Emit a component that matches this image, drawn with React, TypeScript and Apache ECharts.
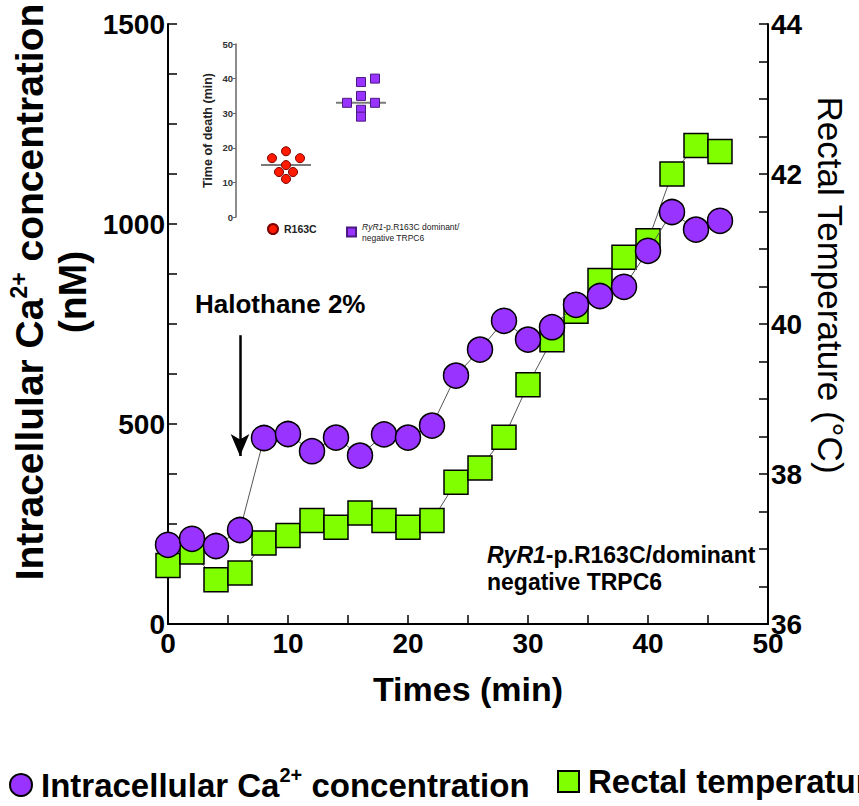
import React, { useEffect, useRef } from "react";
import * as echarts from "echarts";

const FONT = '"Liberation Sans", Arial, Helvetica, sans-serif';

// Main chart data (time in min)
const TIMES = [0, 2, 4, 6, 8, 10, 12, 14, 16, 18, 20, 22, 24, 26, 28, 30, 32, 34, 36, 38, 40, 42, 44, 46];
const CA_NM = [198, 213, 195, 235, 465, 475, 432, 466, 421, 474, 466, 496, 621, 686, 758, 711, 742, 798, 820, 843, 933, 1030, 986, 1008];
const TEMP_C = [36.78, 36.96, 36.59, 36.68, 37.08, 37.18, 37.38, 37.29, 37.48, 37.38, 37.29, 37.38, 37.89, 38.08, 38.49, 39.19, 39.79, 40.17, 40.58, 40.89, 41.11, 42.0, 42.38, 42.3];

// Halothane arrow (time, from / to Ca value)
const HALOTHANE_T = 6;
const ARROW_FROM = 722;
const ARROW_TO = 420;

// Inset: time of death
const RED_X = [0.72, 1.0, 1.28, 1.0, 0.86, 1.14, 1.0];
const RED_Y = [17, 19, 17, 15, 13, 13, 11];
const PURPLE_X = [2.22, 2.5, 2.5, 2.5, 2.5, 2.78, 2.78];
const PURPLE_Y = [33, 39, 35, 31, 29, 33, 40];
const RED_MEAN = 15;
const PURPLE_MEAN = 33;

const CA_NAME = "Intracellular Ca2+ concentration";
const TEMP_NAME = "Rectal temperature";
const RED_NAME = "R163C";
const PURPLE_NAME = "RyR1-p.R163C dominant/ negative TRPC6";

export default function App() {
  const ref = useRef<HTMLDivElement>(null);
  useEffect(() => {
    const chart = echarts.init(ref.current!, null, { renderer: "svg" });
    const bold = { fontFamily: FONT, fontWeight: "bold" as const, color: "#000" };
    const plain = (v: number) => String(v);
    const option: any = {
      animation: false,
      backgroundColor: "#fff",
      textStyle: { fontFamily: FONT },
      grid: [
        { left: 168, top: 24, width: 600, height: 600, containLabel: false, outerBoundsMode: "none" },
        { left: 236, top: 44, width: 150, height: 173, containLabel: false, outerBoundsMode: "none" },
      ],
      legend: [
        {
          data: [{ name: CA_NAME, icon: "circle" }],
          icon: "circle",
          padding: 0,
          left: 9,
          top: 765,
          itemWidth: 22,
          itemHeight: 23,
          formatter: () => "{a|Intracellular Ca}{s|2+}{a| concentration}",
          textStyle: {
            ...bold,
            padding: [0, 0, 0, 4],
            rich: {
              a: { ...bold, fontSize: 33, lineHeight: 40 },
              s: { ...bold, fontSize: 20, lineHeight: 22, verticalAlign: "top" },
            },
          },
        },
        {
          data: [{ name: TEMP_NAME, icon: "rect" }],
          icon: "rect",
          padding: 0,
          left: 557,
          top: 765,
          itemWidth: 21,
          itemHeight: 21,
          formatter: () => "{a|Rectal temperature}",
          textStyle: {
            ...bold,
            padding: [0, 0, 0, 4],
            rich: { a: { ...bold, fontSize: 33, lineHeight: 40 } },
          },
        },
        {
          data: [{ name: RED_NAME, icon: "circle" }],
          icon: "circle",
          padding: 0,
          left: 267,
          top: 223,
          itemWidth: 10,
          itemHeight: 10,
          textStyle: { ...bold, color: "#222", fontSize: 10.5, padding: [0, 0, 0, 1] },
        },
        {
          data: [{ name: PURPLE_NAME, icon: "rect" }],
          icon: "rect",
          padding: 0,
          left: 346,
          top: 222,
          itemWidth: 9,
          itemHeight: 9,
          formatter: () => "{i|RyR1}{n|-p.R163C dominant/}\n{n|negative TRPC6}",
          textStyle: {
            color: "#222",
            padding: [0, 0, 0, 1],
            rich: {
              i: { fontFamily: FONT, fontStyle: "italic", fontSize: 8.5, color: "#222", lineHeight: 11 },
              n: { fontFamily: FONT, fontSize: 8.5, color: "#222", lineHeight: 11 },
            },
          },
        },
      ],
      xAxis: [
        {
          gridIndex: 0,
          type: "value",
          min: 0,
          max: 50,
          interval: 10,
          name: "Times (min)",
          nameLocation: "middle",
          nameGap: 48,
          nameTextStyle: { ...bold, fontSize: 34 },
          axisLine: { show: true, onZero: false, lineStyle: { color: "#000", width: 2 } },
          axisTick: { show: true, inside: true, length: 9, lineStyle: { color: "#000", width: 1.5 } },
          minorTick: { show: true, splitNumber: 2, length: 9, lineStyle: { color: "#000", width: 1.5 } },
          axisLabel: { ...bold, fontSize: 28, margin: 5, formatter: plain },
          splitLine: { show: false },
        },
        { gridIndex: 1, type: "value", min: 0, max: 3, show: false },
      ],
      yAxis: [
        {
          gridIndex: 0,
          type: "value",
          position: "left",
          min: 0,
          max: 1500,
          interval: 500,
          name: "{a|Intracellular Ca}{s|2+}{a| concentration}\n{a|(nM)}",
          nameLocation: "middle",
          nameRotate: 90,
          nameGap: 70,
          nameTextStyle: {
            ...bold,
            padding: [0, 0, 0, 64],
            rich: {
              a: { ...bold, fontSize: 39, lineHeight: 43 },
              s: { ...bold, fontSize: 23, lineHeight: 26, verticalAlign: "top" },
            },
          },
          axisLine: { show: true, onZero: false, lineStyle: { color: "#000", width: 2 } },
          axisTick: { show: true, inside: true, length: 9, lineStyle: { color: "#000", width: 1.5 } },
          minorTick: { show: true, splitNumber: 4, length: 9, lineStyle: { color: "#000", width: 1.5 } },
          axisLabel: { ...bold, fontSize: 28, margin: 3, formatter: plain },
          splitLine: { show: false },
        },
        {
          gridIndex: 0,
          type: "value",
          position: "right",
          min: 36,
          max: 44,
          interval: 2,
          name: "Rectal Temperature (°C)",
          nameLocation: "middle",
          nameRotate: -90,
          nameGap: 37,
          nameTextStyle: { fontFamily: FONT, color: "#000", fontSize: 35, padding: [0, 78, 0, 0] },
          axisLine: { show: true, onZero: false, lineStyle: { color: "#000", width: 2 } },
          axisTick: { show: true, inside: true, length: 9, lineStyle: { color: "#000", width: 1.5 } },
          minorTick: { show: true, splitNumber: 4, length: 9, lineStyle: { color: "#000", width: 1.5 } },
          axisLabel: { ...bold, fontSize: 28, margin: 3, formatter: plain },
          splitLine: { show: false },
        },
        {
          gridIndex: 1,
          type: "value",
          min: 0,
          max: 50,
          interval: 10,
          name: "Time of death (min)",
          nameLocation: "middle",
          nameRotate: 90,
          nameGap: 22,
          nameTextStyle: { ...bold, color: "#222", fontSize: 12.5 },
          axisLine: { show: true, lineStyle: { color: "#666", width: 1.5 } },
          axisTick: { show: true, length: 3, lineStyle: { color: "#666", width: 1 } },
          axisLabel: { ...bold, color: "#333", fontSize: 9.5, margin: 3, formatter: plain },
          splitLine: { show: false },
        },
      ],
      series: [
        {
          name: TEMP_NAME,
          type: "line",
          xAxisIndex: 0,
          yAxisIndex: 1,
          data: TIMES.map((t, i) => [t, TEMP_C[i]]),
          symbol: "rect",
          symbolSize: 24,
          itemStyle: { color: "#80ff00", borderColor: "#000", borderWidth: 1.5 },
          lineStyle: { color: "#555", width: 1 },
          z: 2,
        },
        {
          name: CA_NAME,
          type: "line",
          xAxisIndex: 0,
          yAxisIndex: 0,
          data: TIMES.map((t, i) => [t, CA_NM[i]]),
          symbol: "circle",
          symbolSize: 25,
          itemStyle: { color: "#9933ff", borderColor: "#000", borderWidth: 1.5 },
          lineStyle: { color: "#555", width: 1 },
          z: 3,
          markLine: {
            silent: true,
            symbol: ["none", "arrow"],
            symbolSize: [14, 22],
            label: { show: false },
            lineStyle: { color: "#000", width: 2.5, type: "solid" },
            data: [[{ coord: [HALOTHANE_T, ARROW_FROM] }, { coord: [HALOTHANE_T, ARROW_TO] }]],
          },
        },
        {
          type: "line",
          xAxisIndex: 1,
          yAxisIndex: 2,
          data: [[0.5, RED_MEAN], [1.5, RED_MEAN]],
          symbol: "none",
          lineStyle: { color: "#7a7a7a", width: 2 },
          silent: true,
          z: 1,
        },
        {
          type: "line",
          xAxisIndex: 1,
          yAxisIndex: 2,
          data: [[2.0, PURPLE_MEAN], [3.0, PURPLE_MEAN]],
          symbol: "none",
          lineStyle: { color: "#7a7a7a", width: 2 },
          silent: true,
          z: 1,
        },
        {
          name: RED_NAME,
          type: "scatter",
          xAxisIndex: 1,
          yAxisIndex: 2,
          data: RED_X.map((x, i) => [x, RED_Y[i]]),
          symbol: "circle",
          symbolSize: 9,
          itemStyle: { color: "#ff1a00", borderColor: "#7a0000", borderWidth: 1, opacity: 1 },
          z: 3,
        },
        {
          name: PURPLE_NAME,
          type: "scatter",
          xAxisIndex: 1,
          yAxisIndex: 2,
          data: PURPLE_X.map((x, i) => [x, PURPLE_Y[i]]),
          symbol: "rect",
          symbolSize: 9,
          itemStyle: { color: "#9933ff", borderColor: "#4b1a80", borderWidth: 1, opacity: 1 },
          z: 3,
        },
      ],
      graphic: [
        {
          type: "text",
          left: 195,
          top: 291,
          style: { text: "Halothane 2%", font: `bold 26px ${FONT}`, fill: "#000" },
        },
        {
          type: "text",
          left: 487,
          top: 543,
          style: {
            text: "{i|RyR1}{n|-p.R163C/dominant}\n{n|negative TRPC6}",
            rich: {
              i: { fontFamily: FONT, fontWeight: "bold", fontStyle: "italic", fontSize: 23, fill: "#000", lineHeight: 27 },
              n: { fontFamily: FONT, fontWeight: "bold", fontSize: 23, fill: "#000", lineHeight: 27 },
            },
          },
        },
      ],
    };
    chart.setOption(option);
    return () => chart.dispose();
  }, []);
  return <div ref={ref} style={{ position: "absolute", left: 0, top: 0, width: 859, height: 806 }} />;
}
